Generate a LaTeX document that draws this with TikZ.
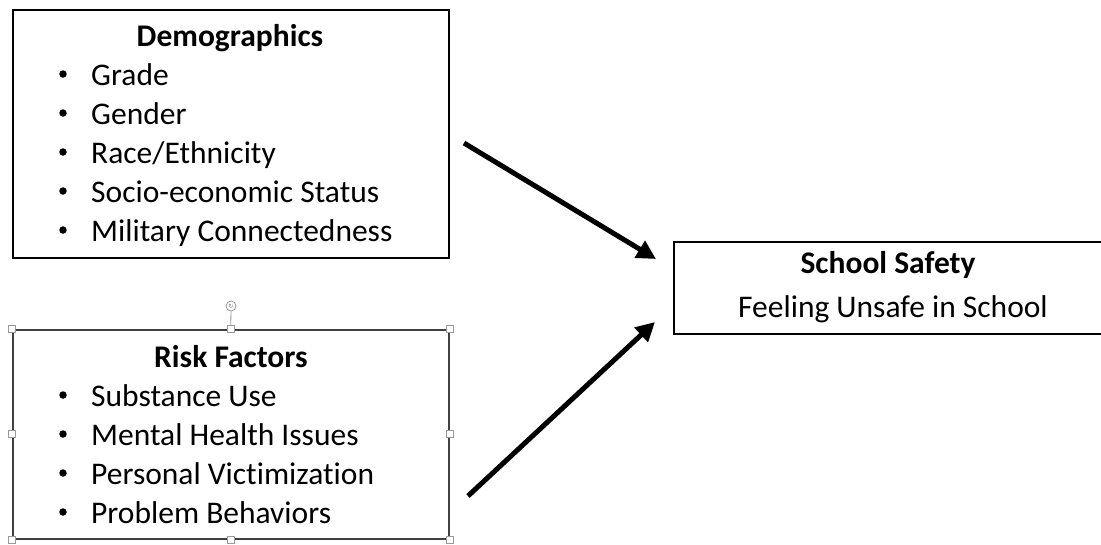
\documentclass[tikz,border=0pt]{standalone}
\usepackage{fontspec}
\setmainfont{Carlito}[Ligatures=NoCommon]
\newfontfamily\symfont{DejaVu Sans}
\usetikzlibrary{arrows.meta}
\begin{document}
\begin{tikzpicture}[x=1pt,y=-1pt,
  box/.style={draw=black,line width=2pt,rectangle,inner sep=0pt},
  selbox/.style={draw=black!75,line width=1.5pt,rectangle,inner sep=0pt},
  handle/.style={draw=black!40,fill=white,line width=0.8pt,minimum size=7pt,inner sep=0pt,rectangle},
  txt/.style={anchor=base west,inner sep=0pt,font=\fontsize{31.5}{38}\selectfont},
  ctxt/.style={anchor=base,inner sep=0pt,font=\fontsize{31.5}{38}\selectfont},
  ttl/.style={anchor=base,inner sep=0pt,font=\fontsize{31.5}{38}\selectfont\bfseries},
  bul/.style={circle,fill=black,inner sep=0pt,minimum size=7.5pt},
  conn/.style={line width=5pt,-{Triangle[length=19pt,width=19pt]}}]
\useasboundingbox (0,0) rectangle (1101,544);

% Demographics box
\node[box,anchor=north west,minimum width=436pt,minimum height=248pt] (demo) at (12,9) {};
\node[ttl] (demoT) at (230,46) {Demographics};
\foreach \i/\t/\y in {1/Grade/85,2/Gender/124,3/Race\slash Ethnicity/163,4/Socio-economic Status/202,5/Military Connectedness/241}{
  \node[bul] (db\i) at (63,\y-11) {};
  \node[txt] (dt\i) at (91,\y) {\t};
}

% Risk factors box (selected)
\node[selbox,anchor=north west,minimum width=436pt,minimum height=209pt] (risk) at (12,329) {};
\node[ttl] (riskT) at (231,367) {Risk Factors};
\foreach \i/\t/\y in {1/Substance Use/406,2/Mental Health Issues/445,3/Personal Victimization/484,4/Problem Behaviors/523}{
  \node[bul] (rb\i) at (63,\y-11) {};
  \node[txt] (rt\i) at (91,\y) {\t};
}
% selection handles
\node[handle] (hnw) at (risk.north west) {};
\node[handle] (hn) at (risk.north) {};
\node[handle] (hne) at (risk.north east) {};
\node[handle] (hw) at (risk.west) {};
\node[handle] (he) at (risk.east) {};
\node[handle] (hsw) at (risk.south west) {};
\node[handle] (hs) at (risk.south) {};
\node[handle] (hse) at (risk.south east) {};
\node[circle,draw=black!40,fill=white,line width=0.8pt,minimum size=10pt,inner sep=0pt] (rot) at (231,306) {\symfont\fontsize{6}{6}\selectfont\color{black!55}↻};
\draw[black!40,line width=0.8pt] (rot) -- (hn);

% School safety box
\node[box,anchor=north west,minimum width=440pt,minimum height=92pt] (school) at (673,241) {};
\node[ttl] (schoolT) at (888,273) {School Safety};
\node[ctxt] (schoolS) at (893,317) {Feeling Unsafe in School};

% connectors
\coordinate (a1s) at (464,143);
\coordinate (a1e) at (656,259);
\coordinate (a2s) at (468,496);
\coordinate (a2e) at (655,322);
\draw[conn] (a1s) -- (a1e);
\draw[conn] (a2s) -- (a2e);
\end{tikzpicture}
\end{document}
